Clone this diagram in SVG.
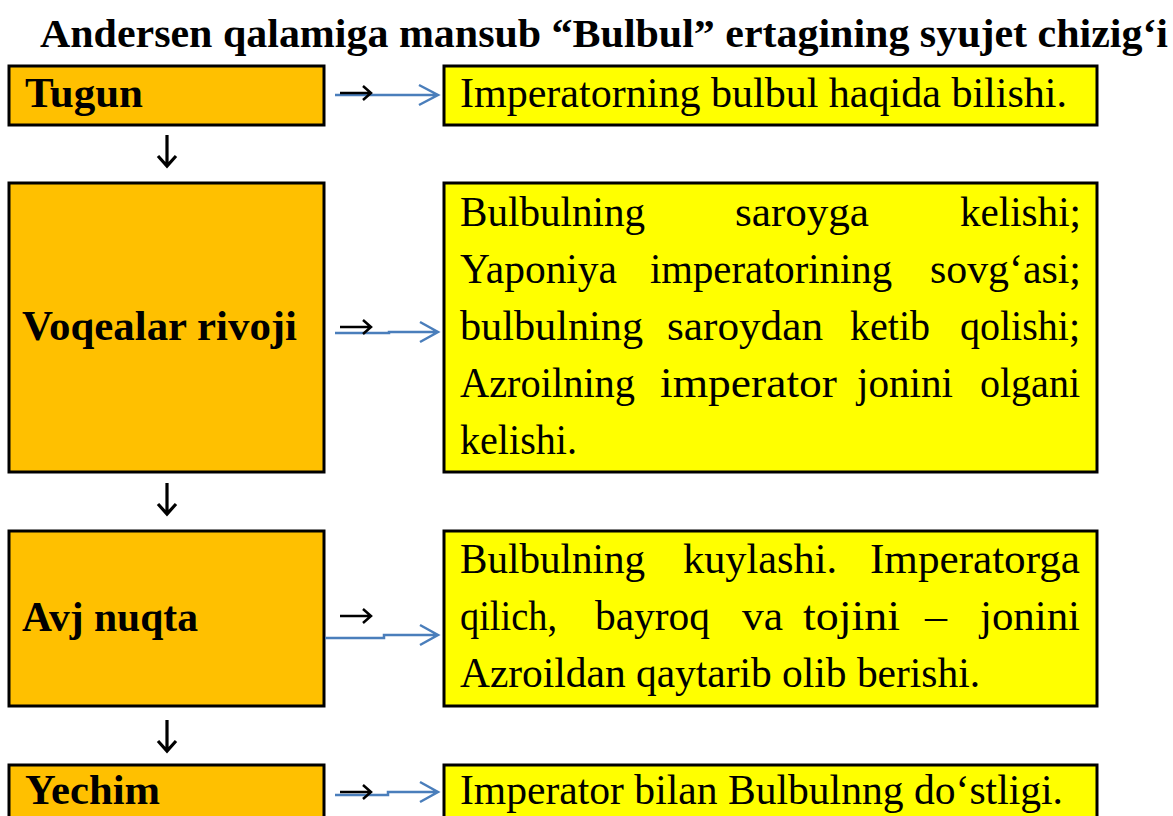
<svg xmlns="http://www.w3.org/2000/svg" width="1173" height="816" viewBox="0 0 1173 816">
<style>
.bg{fill:#ffffff}
.lbox{fill:#FFC000;stroke:#000;stroke-width:3}
.rbox{fill:#FFFF00;stroke:#000;stroke-width:3}
.title{font-family:"Liberation Serif","DejaVu Serif",serif;font-weight:bold;font-size:41px;fill:#000}
.lab{font-family:"Liberation Serif","DejaVu Serif",serif;font-weight:bold;font-size:43px;fill:#000}
.txt{font-family:"Liberation Serif","DejaVu Serif",serif;font-size:43px;fill:#000}
.blue{fill:none;stroke:#4A7EBB;stroke-width:2.5}
.blk{fill:none;stroke:#000;stroke-width:2.5}
.down{fill:none;stroke:#000;stroke-width:3.2}
</style>
<rect class="bg" x="0" y="0" width="1173" height="816"/>
<text class="title" x="40" y="47" textLength="1128" lengthAdjust="spacingAndGlyphs">Andersen qalamiga mansub “Bulbul” ertagining syujet chizig‘i</text>

<g id="tugun">
<rect class="lbox" x="9" y="66" width="315" height="59"/>
<text class="lab" x="25" y="107" textLength="118" lengthAdjust="spacingAndGlyphs">Tugun</text>
</g>
<g id="tugun-desc">
<rect class="rbox" x="444" y="66" width="653" height="59"/>
<text class="txt" x="460" y="107" textLength="607" lengthAdjust="spacingAndGlyphs">Imperatorning bulbul haqida bilishi.</text>
</g>

<g id="voqealar">
<rect class="lbox" x="9" y="183" width="315" height="289"/>
<text class="lab" x="22" y="340" textLength="275" lengthAdjust="spacingAndGlyphs">Voqealar rivoji</text>
</g>
<g id="voqealar-desc">
<rect class="rbox" x="444" y="183" width="653" height="289"/>
<g class="txt">
<text x="460" y="226" textLength="185" lengthAdjust="spacingAndGlyphs">Bulbulning</text>
<text x="735" y="226" textLength="134" lengthAdjust="spacingAndGlyphs">saroyga</text>
<text x="960" y="226" textLength="121" lengthAdjust="spacingAndGlyphs">kelishi;</text>
<text x="460" y="283" textLength="157" lengthAdjust="spacingAndGlyphs">Yaponiya</text>
<text x="650" y="283" textLength="242" lengthAdjust="spacingAndGlyphs">imperatorining</text>
<text x="930" y="283" textLength="151" lengthAdjust="spacingAndGlyphs">sovg‘asi;</text>
<text x="460" y="340" textLength="183" lengthAdjust="spacingAndGlyphs">bulbulning</text>
<text x="667" y="340" textLength="156" lengthAdjust="spacingAndGlyphs">saroydan</text>
<text x="850" y="340" textLength="80" lengthAdjust="spacingAndGlyphs">ketib</text>
<text x="960" y="340" textLength="120" lengthAdjust="spacingAndGlyphs">qolishi;</text>
<text x="460" y="397" textLength="175" lengthAdjust="spacingAndGlyphs">Azroilning</text>
<text x="660" y="397" textLength="177" lengthAdjust="spacingAndGlyphs">imperator</text>
<text x="857" y="397" textLength="96" lengthAdjust="spacingAndGlyphs">jonini</text>
<text x="980" y="397" textLength="100" lengthAdjust="spacingAndGlyphs">olgani</text>
<text x="460" y="454" textLength="117" lengthAdjust="spacingAndGlyphs">kelishi.</text>
</g>
</g>

<g id="avj">
<rect class="lbox" x="9" y="531" width="315" height="175"/>
<text class="lab" x="22" y="631" textLength="176" lengthAdjust="spacingAndGlyphs">Avj nuqta</text>
</g>
<g id="avj-desc">
<rect class="rbox" x="444" y="531" width="653" height="175"/>
<g class="txt">
<text x="460" y="573" textLength="185" lengthAdjust="spacingAndGlyphs">Bulbulning</text>
<text x="683" y="573" textLength="154" lengthAdjust="spacingAndGlyphs">kuylashi.</text>
<text x="870" y="573" textLength="210" lengthAdjust="spacingAndGlyphs">Imperatorga</text>
<text x="460" y="630" textLength="97" lengthAdjust="spacingAndGlyphs">qilich,</text>
<text x="595" y="630" textLength="115" lengthAdjust="spacingAndGlyphs">bayroq</text>
<text x="742" y="630" textLength="41" lengthAdjust="spacingAndGlyphs">va</text>
<text x="803" y="630" textLength="97" lengthAdjust="spacingAndGlyphs">tojini</text>
<text x="925" y="630" textLength="22" lengthAdjust="spacingAndGlyphs">–</text>
<text x="980" y="630" textLength="100" lengthAdjust="spacingAndGlyphs">jonini</text>
<text x="460" y="687" textLength="520" lengthAdjust="spacingAndGlyphs">Azroildan qaytarib olib berishi.</text>
</g>
</g>

<g id="yechim">
<rect class="lbox" x="9" y="765" width="315" height="60"/>
<text class="lab" x="25" y="804" textLength="135" lengthAdjust="spacingAndGlyphs">Yechim</text>
</g>
<g id="yechim-desc">
<rect class="rbox" x="444" y="765" width="653" height="60"/>
<text class="txt" x="460" y="804" textLength="603" lengthAdjust="spacingAndGlyphs">Imperator bilan Bulbulnng do‘stligi.</text>
</g>

<g id="connectors">
<path class="down" d="M167 135 V166 M158 156 L167 166 L176 156"/>
<path class="down" d="M167 483 V514 M158 504 L167 514 L176 504"/>
<path class="down" d="M167 720 V751 M158 741 L167 751 L176 741"/>
<path class="blue" d="M335 95 H437 M419 85 L438 95 L419 105"/>
<path class="blk" d="M340 93 H371 M363 86 L371 93 L363 100"/>
<path class="blue" d="M335 333 H389 V332 H437 M420 322 L438 332 L420 342"/>
<path class="blk" d="M340 327 H371 M363 320 L371 327 L363 334"/>
<path class="blue" d="M325 638 H384 V635 H437 M420 625 L438 635 L420 645"/>
<path class="blk" d="M340 616 H371 M363 609 L371 616 L363 623"/>
<path class="blue" d="M335 795 H388 V792 H437 M420 782 L438 792 L420 802"/>
<path class="blk" d="M340 792 H371 M363 785 L371 792 L363 799"/>
</g>
</svg>
